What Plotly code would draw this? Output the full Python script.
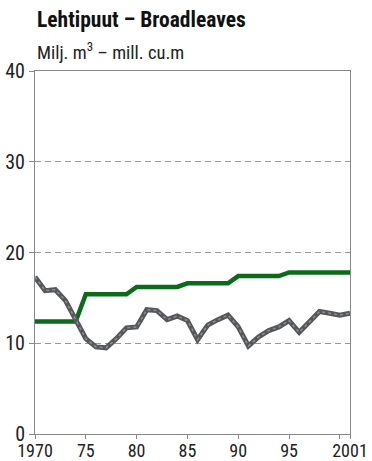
import plotly.graph_objects as go

years = list(range(1970, 2002))

# allowable cut (green, stepwise)
cut_years = [1970, 1974, 1975, 1979, 1980, 1984, 1985, 1989, 1990, 1994, 1995, 2001]
cut_vals = [12.4, 12.4, 15.4, 15.4, 16.2, 16.2, 16.6, 16.6, 17.4, 17.4, 17.8, 17.8]

# fellings (grey)
fellings = [17.3, 15.8, 15.9, 14.7, 12.6, 10.5, 9.6, 9.5, 10.5, 11.7,
            11.8, 13.7, 13.6, 12.6, 13.0, 12.5, 10.4, 12.0, 12.6, 13.1,
            11.8, 9.7, 10.7, 11.4, 11.8, 12.5, 11.2, 12.4, 13.5, 13.3,
            13.1, 13.3]

x_ticks = [1970, 1975, 1980, 1985, 1990, 1995, 2001]
x_labels = ["1970", "75", "80", "85", "90", "95", "2001"]
y_ticks = [0, 10, 20, 30, 40]

font = "Roboto Condensed, Liberation Sans Narrow, sans-serif"

fig = go.Figure()
fig.add_trace(go.Scatter(x=cut_years, y=cut_vals, mode="lines",
                         line=dict(color="#0b6a1c", width=4.5),
                         hoverinfo="skip"))
fig.add_trace(go.Scatter(x=years, y=fellings, mode="lines",
                         line=dict(color="#55575a", width=5),
                         hoverinfo="skip"))
fig.add_trace(go.Scatter(x=years, y=fellings, mode="lines",
                         line=dict(color="#8d8f92", width=1.5, dash="dot"),
                         hoverinfo="skip"))

fig.update_layout(
    width=372, height=461,
    margin=dict(l=35, r=22, t=71, b=27),
    paper_bgcolor="white", plot_bgcolor="white",
    showlegend=False,
    font=dict(family=font, size=20, color="#222"),
    annotations=[
        dict(text="<b>Lehtipuut – Broadleaves</b>", xref="paper", yref="paper",
             x=0, y=1, xanchor="left", yanchor="bottom", yshift=37,
             showarrow=False, font=dict(size=21.5, color="#111")),
        dict(text="Milj. m<sup>3</sup> – mill. cu.m", xref="paper", yref="paper",
             x=0, y=1, xanchor="left", yanchor="bottom", yshift=5,
             showarrow=False, font=dict(size=18.5, color="#222")),
    ],
)
fig.update_xaxes(range=[1970, 2001], tickvals=x_ticks, ticktext=x_labels,
                 showgrid=False, zeroline=False, showline=True, mirror=True,
                 linecolor="#888", linewidth=1, ticks="outside", ticklen=4,
                 tickcolor="#888", automargin=False, tickfont=dict(size=18),
                 ticklabelstandoff=-4,
                 minor=dict(tickvals=[2000], ticks="outside", ticklen=4,
                            tickcolor="#888", showgrid=False))
fig.update_yaxes(range=[0, 40], tickvals=y_ticks, showgrid=True,
                 gridcolor="#999", griddash="6px,4px", gridwidth=1,
                 zeroline=False, showline=True, mirror=True,
                 linecolor="#888", linewidth=1, ticks="outside", ticklen=5,
                 tickcolor="#888", automargin=False)

fig.write_html("out.html", config={"displayModeBar": False},
               post_script="document.body.style.margin='0';")
